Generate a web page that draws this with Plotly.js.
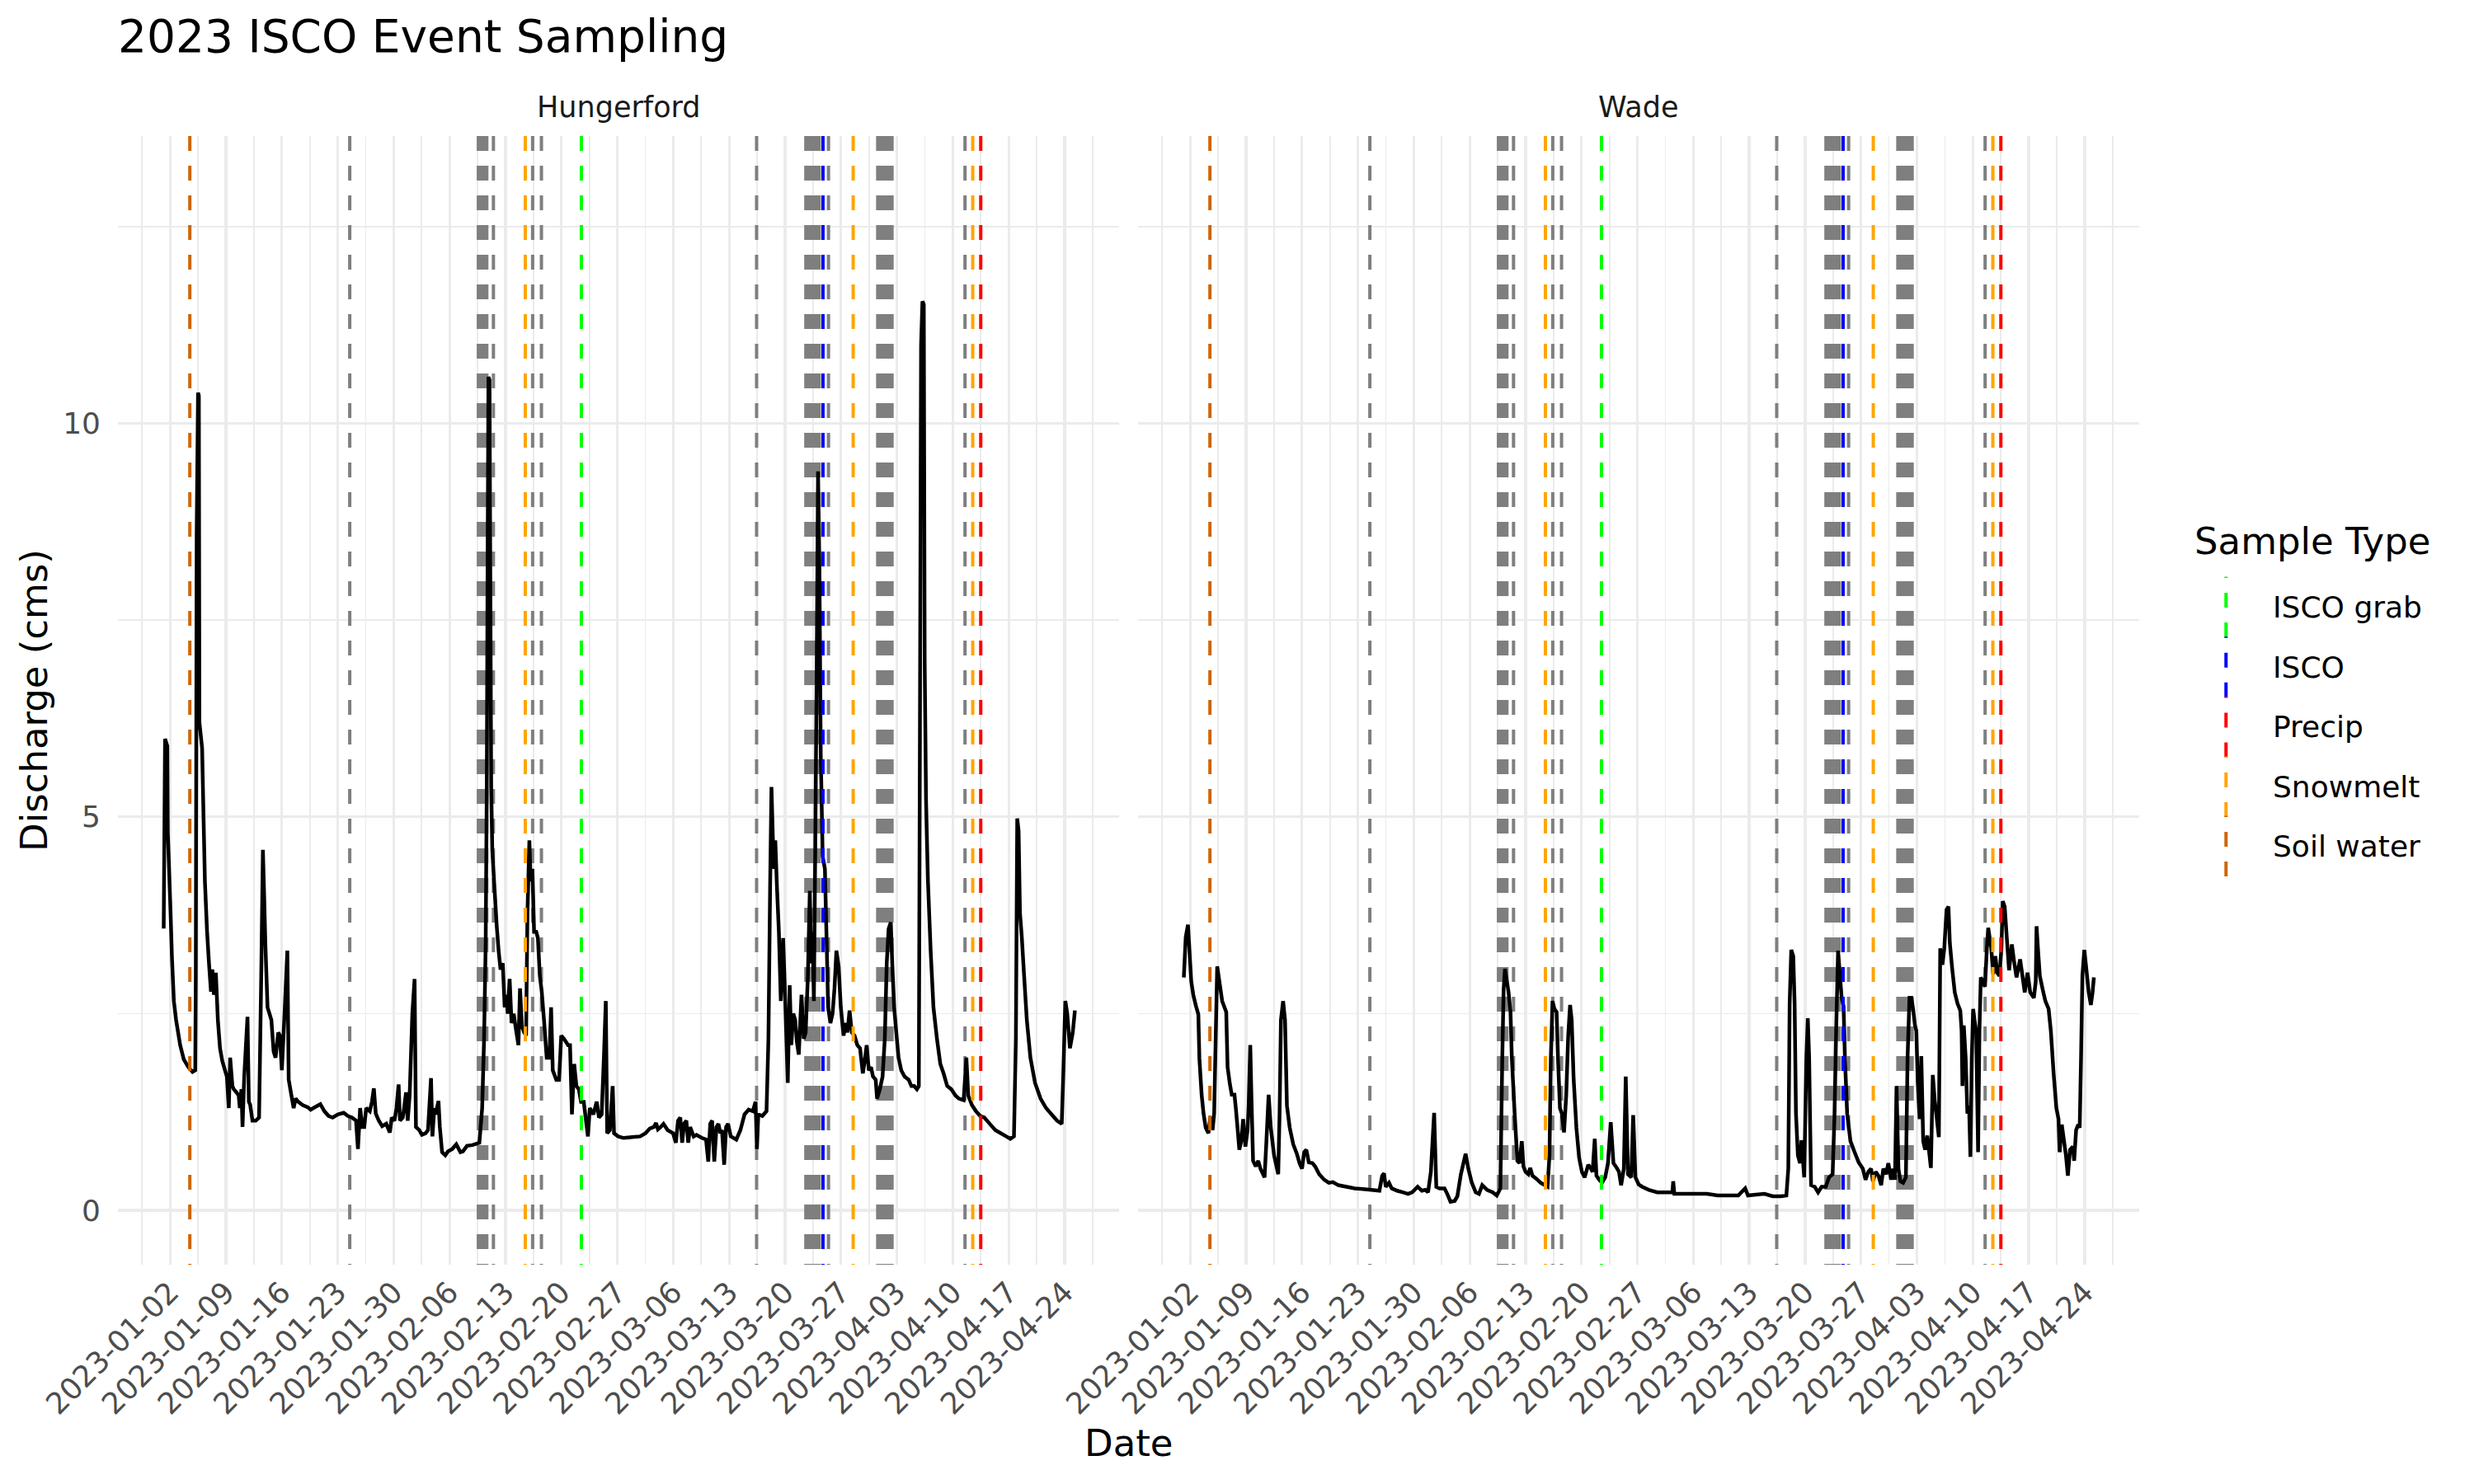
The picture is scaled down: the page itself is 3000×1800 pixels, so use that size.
<!DOCTYPE html>
<html>
<head>
<meta charset="utf-8">
<script src="https://cdn.plot.ly/plotly-3.0.1.min.js"></script>
<style>html,body{margin:0;padding:0;background:#ffffff;}</style>
</head>
<body>
<div id="chart" style="width:3000px;height:1800px;"></div>
<script>
// ---------------- DATA ----------------
// Days after 2023-01-02 00:00 and discharge (cms)
const hungerfordDay = [-0.79,-0.62,-0.34,-0.28,0.07,0.24,0.48,0.76,1.27,1.72,2.30,2.82,3.16,3.23,3.34,3.51,3.61,3.68,4.02,4.20,4.37,4.64,4.88,5.13,5.30,5.50,5.74,5.99,6.26,6.54,6.88,7.12,7.36,7.53,7.81,7.98,8.32,8.60,8.74,8.94,9.08,9.29,9.70,9.87,10.04,10.32,10.73,11.15,11.42,11.63,11.76,11.94,12.21,12.45,12.69,12.97,13.21,13.55,13.76,14.00,14.34,14.69,14.86,15.20,15.48,15.72,16.06,16.58,17.27,17.61,18.13,18.82,19.33,19.85,20.36,21.05,21.74,22.26,22.77,23.29,23.53,23.80,24.08,24.32,24.56,25.01,25.28,25.52,25.76,26.14,26.56,27.07,27.52,27.76,28.10,28.35,28.62,28.79,29.14,29.31,29.55,29.76,30.00,30.34,30.62,30.79,31.20,31.54,31.99,32.30,32.68,32.85,33.09,33.26,33.61,33.78,34.06,34.47,34.81,35.33,35.84,36.36,36.67,37.18,37.87,38.73,39.08,39.32,39.52,39.66,39.76,39.87,40.00,40.11,40.21,40.35,40.62,40.90,41.14,41.38,41.66,41.90,42.10,42.28,42.52,42.76,43.03,43.31,43.62,43.82,44.06,44.34,44.58,44.75,44.99,45.16,45.37,45.58,45.85,46.06,46.30,46.54,46.82,47.16,47.50,47.71,47.92,48.36,48.71,48.98,49.33,49.84,50.08,50.32,50.60,50.88,51.18,51.46,51.80,52.08,52.32,52.56,53.01,53.42,53.70,54.04,54.32,54.56,54.73,55.07,55.42,55.59,56.10,56.79,57.82,58.86,59.54,60.06,60.58,60.85,61.09,61.44,61.78,62.30,62.98,63.33,63.60,63.88,64.12,64.36,64.64,64.88,65.12,65.56,65.91,66.60,67.11,67.39,67.63,67.87,68.14,68.42,68.66,68.90,69.11,69.38,69.62,69.86,70.21,70.90,71.41,71.93,72.44,72.96,73.31,73.48,73.65,74.16,74.68,74.92,75.13,75.30,75.47,75.64,75.78,75.99,76.23,76.47,76.76,77.00,77.34,77.58,77.79,78.03,78.27,78.48,78.72,79.06,79.34,79.58,79.86,80.10,80.27,80.44,80.61,80.78,80.96,81.13,81.30,81.47,81.71,81.99,82.16,82.40,82.68,82.95,83.19,83.43,83.71,83.98,84.33,84.57,84.81,85.08,85.36,85.70,86.05,86.39,86.74,86.98,87.22,87.49,87.77,88.01,88.35,88.52,88.87,89.21,89.49,89.73,89.97,90.24,90.42,90.66,90.93,91.21,91.55,91.96,92.48,92.82,93.17,93.51,93.75,93.89,94.03,94.20,94.37,94.48,94.65,94.89,95.23,95.58,96.02,96.44,96.85,97.30,97.81,98.33,98.77,99.36,99.70,99.94,100.39,100.90,101.42,101.94,102.63,103.32,104.00,104.69,105.21,105.66,105.90,106.07,106.24,106.41,106.65,106.93,107.27,107.72,108.30,108.99,109.68,110.37,111.06,111.64,111.85,112.09,112.33,112.67,113.02,113.29];
const hungerfordQ = [3.58,5.99,5.90,4.82,3.78,3.22,2.66,2.42,2.10,1.92,1.82,1.76,1.78,2.98,8.59,10.39,10.35,6.20,5.87,4.98,4.18,3.54,3.14,2.78,3.06,2.74,3.02,2.42,2.06,1.90,1.78,1.70,1.30,1.94,1.58,1.54,1.50,1.46,1.30,1.54,1.06,1.70,2.46,1.38,1.34,1.14,1.14,1.18,2.98,4.58,4.10,3.38,2.58,2.50,2.42,2.02,1.94,2.26,2.22,1.78,2.50,3.30,1.66,1.46,1.30,1.42,1.38,1.34,1.31,1.28,1.31,1.35,1.26,1.20,1.18,1.22,1.24,1.20,1.18,1.14,0.78,1.30,1.06,1.06,1.30,1.26,1.38,1.55,1.23,1.14,1.07,1.10,0.99,1.18,1.14,1.30,1.60,1.14,1.18,1.30,1.50,1.14,1.46,2.50,2.94,1.06,1.02,0.96,0.98,1.02,1.68,0.94,1.30,1.22,1.39,1.06,0.74,0.70,0.75,0.78,0.84,0.74,0.75,0.82,0.83,0.86,1.30,2.18,3.38,5.38,8.19,10.59,10.55,7.79,5.38,4.58,4.10,3.62,3.30,3.06,3.14,2.58,2.74,2.50,2.94,2.38,2.50,2.30,2.10,2.82,2.34,2.26,2.22,3.78,4.70,4.18,4.34,3.54,3.54,3.46,2.98,2.78,2.42,1.94,1.94,2.58,1.78,1.66,1.66,2.22,2.18,2.10,2.10,1.22,1.86,1.58,1.54,1.38,1.38,1.14,0.94,1.30,1.22,1.38,1.18,1.22,1.94,2.66,0.98,1.02,1.58,0.98,0.94,0.92,0.93,0.94,0.98,1.04,1.06,1.11,1.03,1.06,1.10,1.02,0.98,0.86,1.14,1.18,0.86,1.10,1.14,0.86,1.06,0.94,0.96,0.92,0.90,0.62,1.10,1.14,0.62,1.06,1.10,0.98,1.02,0.58,1.06,1.10,0.94,0.90,1.02,1.22,1.28,1.26,1.38,0.78,1.22,1.20,1.26,2.18,4.10,5.38,4.74,4.34,4.70,4.10,3.54,2.66,3.46,2.74,1.62,2.86,2.10,2.50,2.42,2.14,1.98,2.74,2.18,2.26,2.98,4.06,3.14,3.54,2.66,4.58,6.83,9.39,8.19,5.79,4.50,4.34,3.62,2.58,2.38,2.50,2.82,3.30,3.10,2.58,2.22,2.38,2.26,2.54,2.26,2.22,2.10,2.06,1.74,1.90,2.10,1.78,1.82,1.70,1.66,1.42,1.54,1.70,2.18,3.14,3.58,3.66,3.14,2.58,2.26,1.94,1.78,1.70,1.66,1.58,1.58,1.54,1.58,6.19,10.99,11.55,11.51,6.99,5.22,4.18,3.30,2.58,2.18,1.86,1.74,1.58,1.54,1.46,1.42,1.40,1.94,1.46,1.34,1.26,1.20,1.18,1.10,1.02,0.98,0.94,0.91,0.94,2.18,4.98,4.82,3.78,3.46,2.98,2.42,1.94,1.62,1.42,1.30,1.22,1.14,1.10,1.78,2.66,2.50,2.06,2.26,2.54];

const wadeDay = [-0.79,-0.55,-0.27,-0.10,0.14,0.41,0.75,1.03,1.16,1.44,1.68,1.95,2.29,2.53,2.81,3.01,3.22,3.39,3.66,4.01,4.52,4.69,4.97,5.21,5.55,5.72,5.96,6.16,6.40,6.64,6.92,7.19,7.33,7.53,7.67,7.88,8.22,8.53,8.80,9.32,9.55,9.83,10.10,10.51,11.03,11.20,11.37,11.64,11.88,12.12,12.47,12.91,13.36,13.70,14.01,14.28,14.55,14.86,15.31,15.65,16.16,16.78,17.36,17.88,18.56,19.59,20.62,21.64,22.67,23.70,24.04,24.28,24.49,24.90,25.24,25.92,26.61,27.29,27.81,28.49,29.01,29.45,29.79,30.14,30.55,30.82,31.23,31.85,32.19,32.60,33.12,33.46,33.90,34.49,34.83,35.27,35.75,36.16,36.57,37.19,37.88,38.39,38.84,39.08,39.25,39.42,39.60,39.87,40.11,40.28,40.63,40.97,41.24,41.52,41.73,42.00,42.34,42.58,42.86,43.37,43.89,44.41,44.75,44.99,45.16,45.37,45.61,45.88,46.06,46.30,46.54,46.81,47.09,47.33,47.57,47.77,48.01,48.36,48.70,49.05,49.39,49.84,50.18,50.39,50.66,50.87,51.21,51.56,51.97,52.31,52.66,53.00,53.41,53.69,53.96,54.30,54.54,54.82,55.23,55.47,55.75,56.16,56.60,57.46,58.49,59.52,60.38,60.48,60.62,61.93,63.31,64.68,66.05,67.43,68.63,69.49,69.84,70.87,71.90,72.93,73.96,74.65,74.89,75.06,75.26,75.51,75.68,75.85,76.09,76.36,76.54,76.88,77.15,77.33,77.50,77.74,78.20,78.62,79.06,79.58,79.99,80.44,80.68,80.88,81.12,81.36,81.57,81.81,81.98,82.26,82.67,83.19,83.70,84.22,84.56,84.90,85.25,85.49,85.83,86.18,86.52,86.79,87.14,87.41,87.76,88.00,88.24,88.44,88.68,88.92,89.27,89.61,89.82,90.06,90.30,90.51,90.75,90.92,91.09,91.33,91.54,91.78,92.02,92.29,92.57,92.74,92.98,93.22,93.49,93.74,93.91,94.18,94.42,94.70,94.94,95.11,95.39,95.73,96.07,96.42,96.59,96.69,96.86,97.10,97.31,97.52,97.69,97.86,98.03,98.20,98.41,98.65,98.82,98.99,99.23,99.51,99.75,99.92,100.09,100.30,100.54,100.81,101.05,101.33,101.57,101.74,101.98,102.26,102.53,102.88,103.12,103.46,103.91,104.15,104.49,104.84,105.18,105.63,105.87,105.97,106.14,106.38,106.73,107.07,107.48,107.76,108.10,108.45,108.72,108.86,109.13,109.41,109.65,109.89,110.16,110.51,110.68,110.92,111.19,111.37,111.54,111.71,111.95,112.22,112.50,112.77,112.98,113.15];
const wadeQ = [2.96,3.47,3.63,3.33,2.91,2.73,2.59,2.49,1.93,1.47,1.23,1.05,0.98,1.19,1.02,1.23,2.28,3.10,2.91,2.66,2.52,1.82,1.61,1.47,1.47,1.30,1.02,0.77,0.88,1.16,0.81,1.02,1.33,2.10,1.47,0.63,0.56,0.63,0.53,0.42,0.88,1.47,1.05,0.70,0.46,1.23,2.42,2.66,2.42,1.33,1.05,0.84,0.72,0.60,0.53,0.74,0.77,0.61,0.60,0.56,0.46,0.39,0.35,0.36,0.32,0.30,0.28,0.27,0.26,0.25,0.44,0.47,0.30,0.35,0.28,0.25,0.23,0.21,0.23,0.30,0.25,0.26,0.23,0.49,1.24,0.30,0.28,0.28,0.21,0.11,0.12,0.18,0.46,0.72,0.53,0.35,0.23,0.21,0.32,0.26,0.23,0.19,0.28,1.93,2.81,3.07,2.95,2.77,2.52,1.93,1.23,0.63,0.60,0.88,0.56,0.49,0.46,0.54,0.44,0.40,0.35,0.32,0.30,0.70,1.93,2.66,2.56,2.52,1.93,1.30,1.23,0.99,1.47,2.21,2.61,2.42,1.68,1.05,0.67,0.49,0.42,0.58,0.53,0.49,0.91,0.44,0.39,0.35,0.42,0.60,1.12,0.60,0.54,0.49,0.32,0.53,1.70,0.46,0.42,1.21,0.42,0.33,0.30,0.26,0.23,0.23,0.23,0.37,0.21,0.21,0.21,0.21,0.19,0.19,0.19,0.28,0.19,0.20,0.21,0.18,0.18,0.19,0.53,2.63,3.31,3.23,2.63,1.23,0.70,0.60,0.89,0.42,1.93,2.44,1.93,0.32,0.30,0.23,0.30,0.30,0.42,0.46,1.23,2.28,3.30,2.98,2.70,2.59,1.93,1.23,0.88,0.74,0.61,0.53,0.39,0.49,0.53,0.37,0.49,0.44,0.32,0.53,0.46,0.60,0.39,0.53,0.39,1.58,0.53,0.37,0.35,0.42,1.93,2.70,2.70,2.56,2.35,2.28,1.65,1.16,1.96,0.88,0.77,0.95,0.70,0.54,1.72,1.40,1.16,0.93,3.33,3.12,3.33,3.82,3.86,3.40,3.09,2.77,2.63,2.54,2.28,1.58,2.35,1.93,1.23,1.33,0.68,1.93,2.56,2.42,2.28,0.74,2.28,2.96,2.91,2.84,3.33,3.59,3.47,3.33,3.00,3.23,3.02,2.98,3.33,3.93,3.86,3.44,3.05,3.38,3.19,2.96,3.19,3.02,2.77,3.02,2.77,2.70,2.91,3.61,3.33,2.98,2.81,2.66,2.56,2.28,1.75,1.30,1.16,0.74,1.09,0.88,0.70,0.44,0.77,0.81,0.63,1.02,1.09,1.05,1.93,2.98,3.31,3.05,2.77,2.61,2.77,2.96];

const sites = ["Hungerford", "Wade"];

// Sample times (same for both sites)
const sampleTypes  = ["ISCO grab", "ISCO", "Precip", "Snowmelt", "Soil water"];
const iscoGrabDates  = ["2023-02-22 12:00"];
const iscoDates      = ["2023-03-24 18:00"];
const precipDates    = ["2023-04-13 12:00"];
const snowmeltDates  = ["2023-02-15 11:30", "2023-03-28 12:45", "2023-04-12 12:00"];
const soilWaterDates = ["2023-01-04 11:30"];
// samples without a type (drawn grey, not in the legend)
const otherSampleDates = ["2023-01-24 12:00",
  "2023-02-09 14:30","2023-02-09 19:30","2023-02-10 00:30","2023-02-10 05:30","2023-02-10 10:30","2023-02-10 15:50",
  "2023-02-11 11:45","2023-02-16 09:35","2023-02-17 12:00","2023-03-16 10:35",
  "2023-03-22 14:30","2023-03-22 20:30","2023-03-23 02:30","2023-03-23 08:30","2023-03-23 14:30","2023-03-23 20:30","2023-03-24 02:30","2023-03-24 06:30",
  "2023-03-25 10:35",
  "2023-03-31 14:30","2023-03-31 20:30","2023-04-01 02:30","2023-04-01 08:30","2023-04-01 14:30","2023-04-01 20:30","2023-04-02 02:30","2023-04-02 09:30",
  "2023-04-11 12:45"];

const yTickVals = [0, 5, 10];
const yTickText = ["0", "5", "10"];

// ---------------- STYLE / LAYOUT ----------------
const typeColors = {"ISCO grab":"#00FF00","ISCO":"#0000FF","Precip":"#FF0000","Snowmelt":"#FFA500","Soil water":"#CD6600"};
const typeDates  = {"ISCO grab":iscoGrabDates,"ISCO":iscoDates,"Precip":precipDates,"Snowmelt":snowmeltDates,"Soil water":soilWaterDates};
const OTHER_COLOR = "#7F7F7F";
const FONT = "DejaVu Sans";
const Y_LO = -0.69, Y_HI = 13.65;
const X_RANGE = ["2022-12-26 11:30", "2023-04-30 19:40"];
const BASE = Date.UTC(2023, 0, 2);
function dayToDate(d) { return new Date(BASE + d * 86400000).toISOString().slice(0, 19).replace("T", " "); }

const PL = 143, PR = 2594, PT = 165, PB = 1534;
const px2x = X => (X - PL) / (PR - PL);
const px2y = Y => (PB - Y) / (PB - PT);

const panels = [
  {xa: "x", ya: "y", day: hungerfordDay, q: hungerfordQ},
  {xa: "x2", ya: "y2", day: wadeDay, q: wadeQ}
];

function vlineTrace(dates, color, xa, ya) {
  const x = [], y = [];
  dates.forEach(d => { x.push(d, d, null); y.push(Y_HI, Y_LO, null); });
  return {type: "scatter", mode: "lines", x: x, y: y, xaxis: xa, yaxis: ya,
          line: {color: color, width: 4, dash: "18px,18px"}, hoverinfo: "skip", showlegend: false};
}

const traces = [];
// grey (untyped) sample lines underneath
panels.forEach(p => traces.push(vlineTrace(otherSampleDates, OTHER_COLOR, p.xa, p.ya)));
// discharge lines
panels.forEach(p => traces.push({
  type: "scatter", mode: "lines", x: p.day.map(dayToDate), y: p.q, xaxis: p.xa, yaxis: p.ya,
  line: {color: "#000000", width: 4.5, simplify: false}, showlegend: false, hoverinfo: "skip"
}));
// typed sample lines on top
panels.forEach(p => sampleTypes.forEach(t => traces.push(vlineTrace(typeDates[t], typeColors[t], p.xa, p.ya))));

const gridCol = "#EBEBEB";
function xAxis(domain, anchor) {
  return {
    type: "date", domain: domain, anchor: anchor, range: X_RANGE,
    tick0: "2023-01-02", dtick: 7 * 86400000, tickformat: "%Y-%m-%d", tickangle: -45,
    tickfont: {family: FONT, size: 36, color: "#4D4D4D"},
    ticks: "", showline: false, zeroline: false, ticklabelstandoff: 4,
    showgrid: true, gridcolor: gridCol, gridwidth: 3.3,
    minor: {tick0: "2023-01-02", dtick: 3.5 * 86400000, showgrid: true, gridcolor: gridCol, gridwidth: 1.7, ticks: ""},
    fixedrange: true
  };
}
function yAxis(anchor, showLabels) {
  return {
    domain: [0, 1], anchor: anchor, range: [Y_LO, Y_HI],
    tickmode: "array", tickvals: yTickVals, ticktext: yTickText, showticklabels: showLabels,
    tickfont: {family: FONT, size: 36, color: "#4D4D4D"},
    ticks: "", showline: false, zeroline: false, ticklabelstandoff: 20,
    showgrid: true, gridcolor: gridCol, gridwidth: 3.3,
    minor: {tickmode: "array", tickvals: [2.5, 7.5, 12.5], showgrid: true, gridcolor: gridCol, gridwidth: 1.7, ticks: ""},
    fixedrange: true
  };
}

const d1 = [0, px2x(1357)], d2 = [px2x(1380), 1];

const layout = {
  width: 3000, height: 1800,
  margin: {l: PL, r: 3000 - PR, t: PT, b: 1800 - PB, pad: 0},
  paper_bgcolor: "#ffffff", plot_bgcolor: "#ffffff",
  font: {family: FONT, color: "#000000"},
  showlegend: false,
  title: {text: "2023 ISCO Event Sampling", font: {family: FONT, size: 55, color: "#000000"},
          x: 0, xref: "paper", xanchor: "left", y: 1 - 44 / 1800, yref: "container", yanchor: "middle"},
  xaxis: xAxis(d1, "y"),
  xaxis2: xAxis(d2, "y2"),
  yaxis: Object.assign(yAxis("x", true), {title: {text: "Discharge (cms)", font: {family: FONT, size: 45, color: "#000000"}, standoff: 4}}),
  yaxis2: yAxis("x2", false),
  annotations: [],
  shapes: []
};

// facet strip labels
sites.forEach((s, i) => layout.annotations.push({
  text: s, xref: (i === 0 ? "x" : "x2") + " domain", yref: (i === 0 ? "y" : "y2") + " domain",
  x: 0.5, y: 1, xanchor: "center", yanchor: "middle", yshift: 35, showarrow: false,
  font: {family: FONT, size: 35, color: "#1A1A1A"}
}));
// shared x-axis title
layout.annotations.push({text: "Date", xref: "paper", yref: "paper", x: 0.5, y: px2y(1750),
  xanchor: "center", yanchor: "middle", showarrow: false, font: {family: FONT, size: 45, color: "#000000"}});

// legend (vertical dashed keys, as in the original)
layout.annotations.push({text: "Sample Type", xref: "paper", yref: "paper", x: px2x(2659), y: px2y(656),
  xanchor: "left", yanchor: "middle", showarrow: false, font: {family: FONT, size: 45, color: "#000000"}});
const legendCenters = [736.4, 809.2, 881.8, 954.4, 1026.5];
sampleTypes.forEach((t, i) => {
  const c = legendCenters[i];
  layout.shapes.push({type: "line", xref: "paper", yref: "paper",
    x0: px2x(2699.3), x1: px2x(2699.3), y0: px2y(c + 36.6), y1: px2y(c - 36.9),
    line: {color: typeColors[t], width: 4, dash: "18px,18px"}});
  layout.annotations.push({text: t, xref: "paper", yref: "paper", x: px2x(2754), y: px2y(c),
    xanchor: "left", yanchor: "middle", showarrow: false, font: {family: FONT, size: 36, color: "#000000"}});
});

Plotly.newPlot("chart", traces, layout, {displayModeBar: false, staticPlot: true});
</script>
</body>
</html>
